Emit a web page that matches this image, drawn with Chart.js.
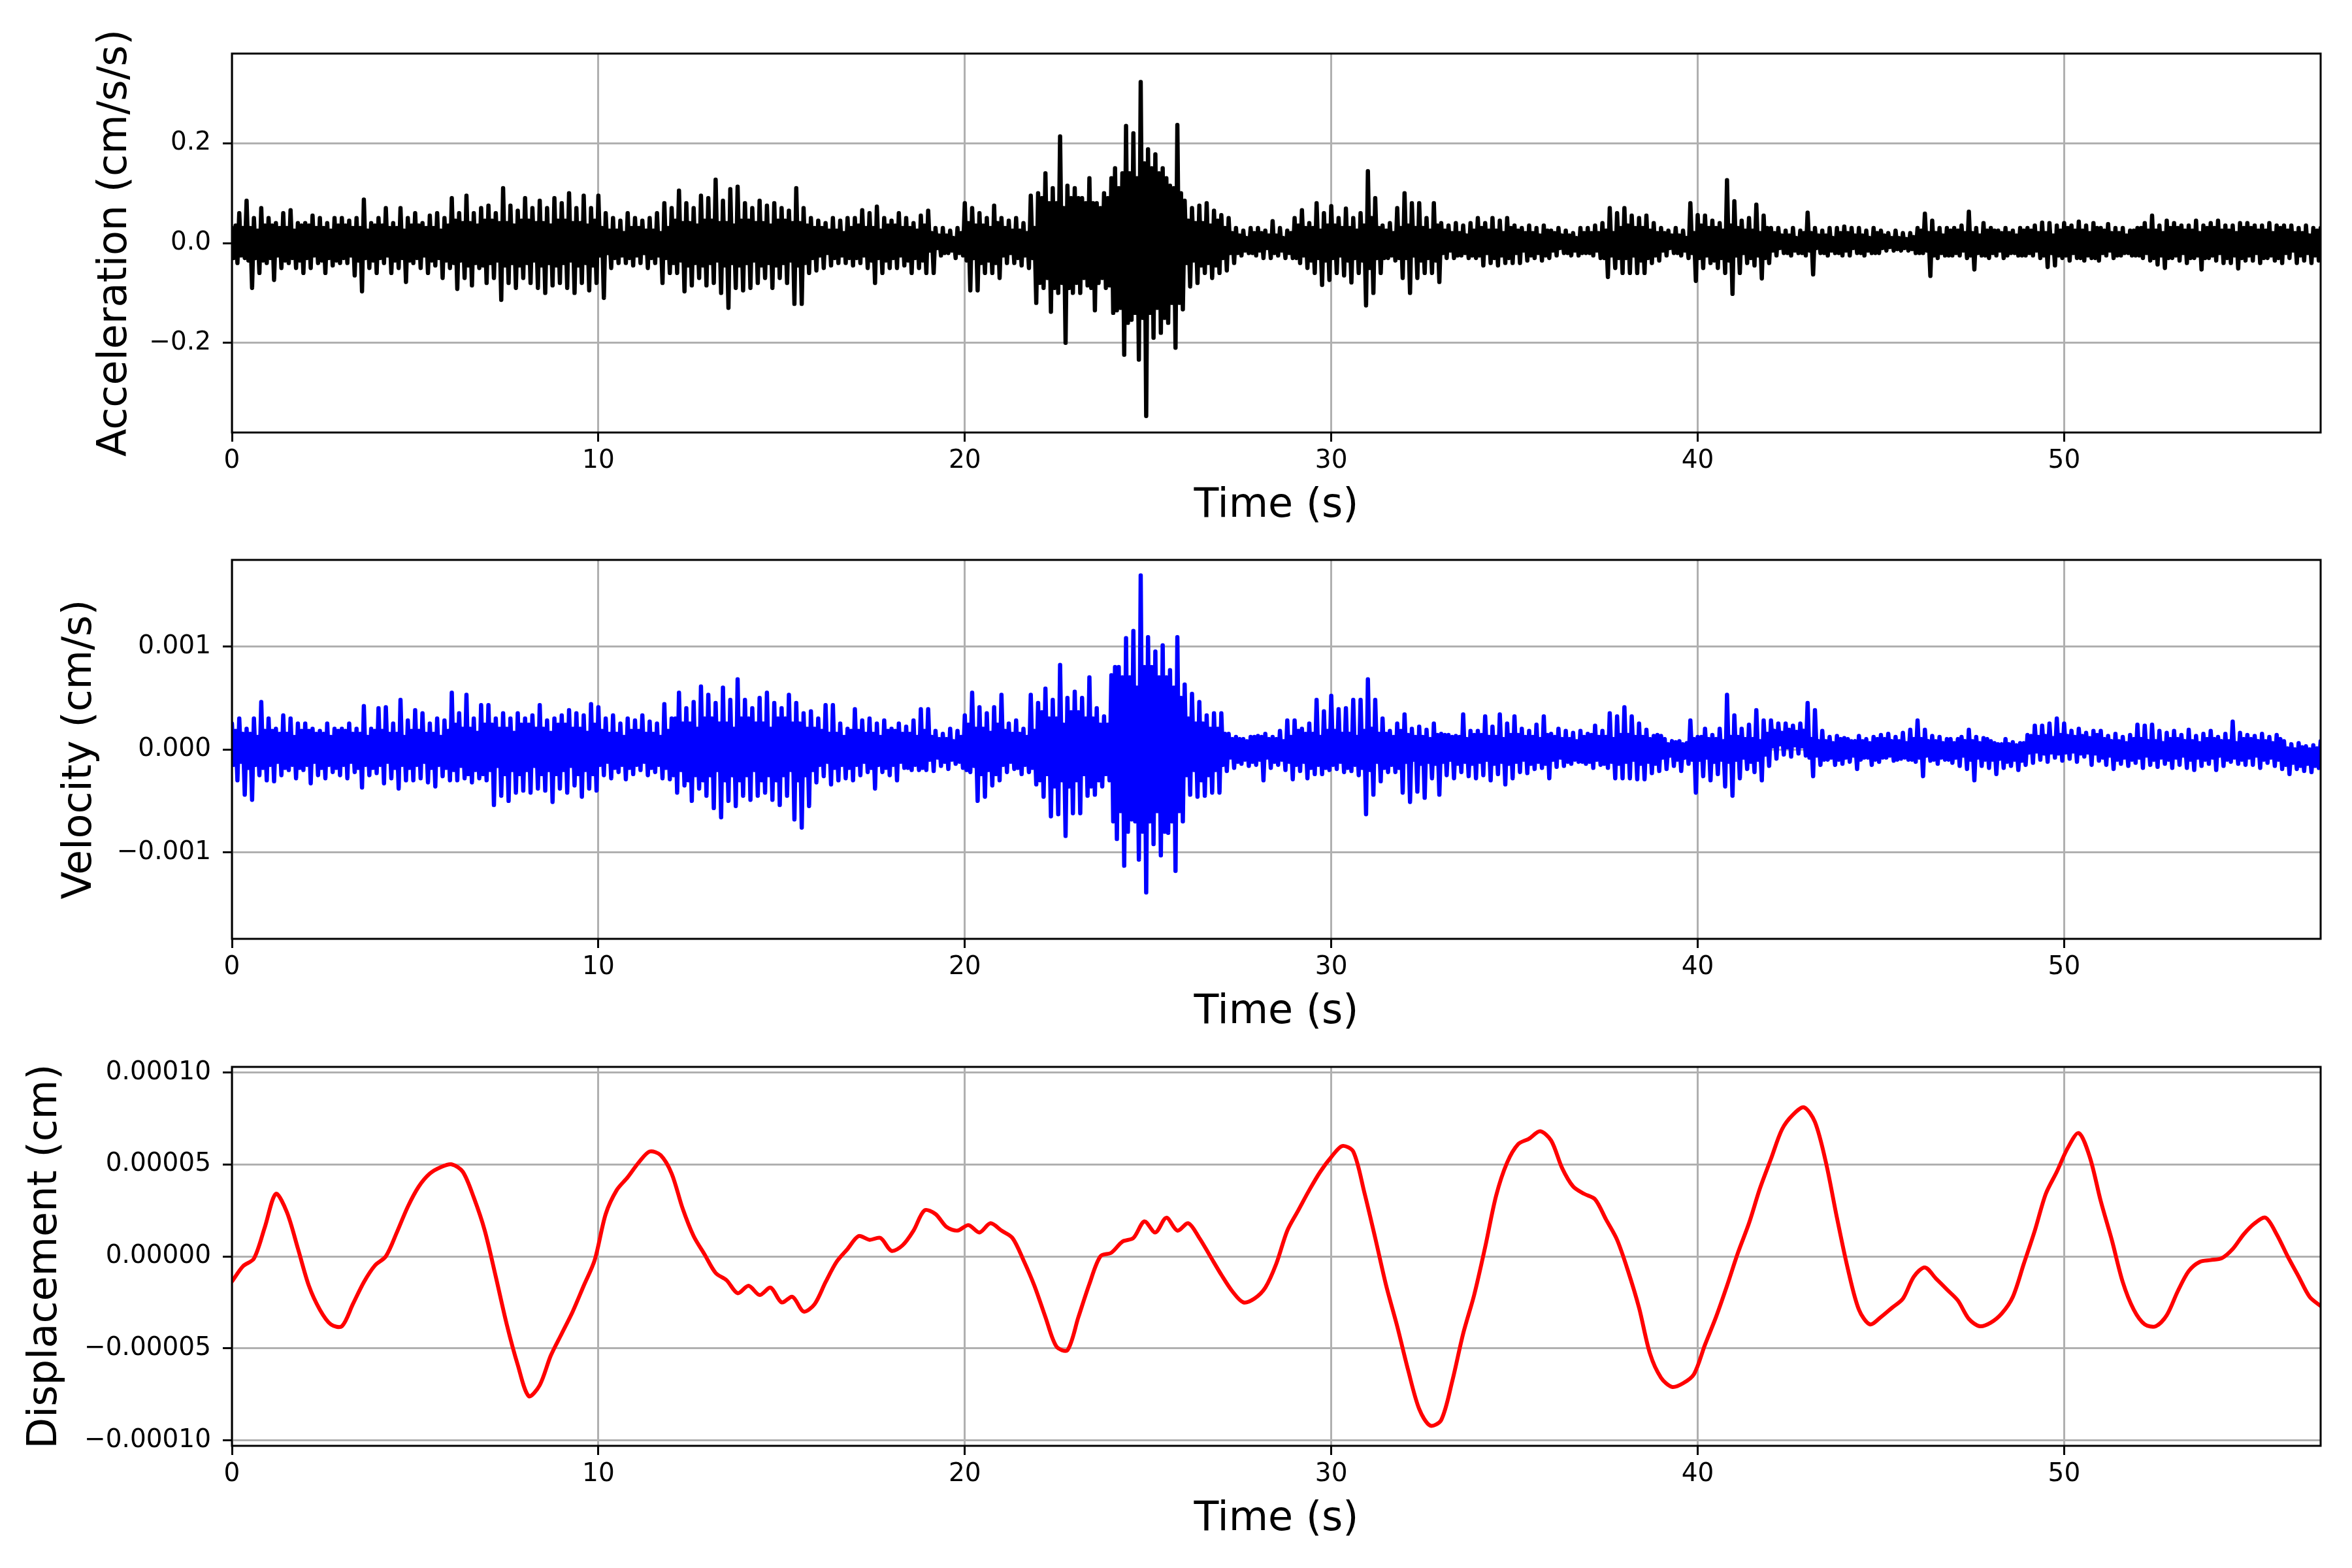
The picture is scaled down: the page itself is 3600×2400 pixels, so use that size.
<!DOCTYPE html>
<html>
<head>
<meta charset="utf-8">
<title>Acceleration, velocity and displacement</title>
<script src="https://cdn.jsdelivr.net/npm/chart.js@4.4.1/dist/chart.umd.min.js"></script>
<style>
  html, body { margin: 0; padding: 0; background: #fff; }
  body { width: 3600px; height: 2400px; position: relative; overflow: hidden; }
  canvas { position: absolute; left: 0; }
</style>
</head>
<body>
<canvas id="accChart" width="3600" height="790" style="top:32px"></canvas>
<canvas id="velChart" width="3600" height="790" style="top:807px"></canvas>
<canvas id="dispChart" width="3600" height="790" style="top:1583px"></canvas>
<script>
// sample spacing of the two noisy traces (s): 20 readings per second
const DT = 0.05;
// sample spacing of the displacement trace (s)
const DISP_DT = 0.3;

// acceleration (cm/s/s), one row per second
const acceleration = [
  .03,-.03,.035,-.04,.06,-.025,.03,-.03,.085,-.035,.03,-.09,.05,-.03,.025,-.06,.07,-.035,.035,-.04,
  .05,-.03,.035,-.074,.04,-.025,.03,-.05,.06,-.035,.03,-.04,.066,-.03,.025,-.05,.04,-.035,.035,-.06,
  .04,-.03,.035,-.05,.055,-.025,.03,-.04,.05,-.035,.03,-.06,.04,-.03,.025,-.045,.05,-.035,.035,-.04,
  .05,-.03,.035,-.04,.045,-.025,.03,-.065,.05,-.035,.03,-.097,.087,-.03,.025,-.05,.04,-.035,.035,-.06,
  .05,-.03,.035,-.04,.07,-.025,.03,-.06,.04,-.035,.03,-.05,.07,-.03,.025,-.078,.05,-.035,.035,-.04,
  .06,-.03,.035,-.05,.04,-.025,.03,-.06,.055,-.035,.03,-.045,.06,-.03,.025,-.07,.05,-.035,.035,-.05,
  .09,-.04,.045,-.092,.06,-.035,.04,-.07,.095,-.045,.04,-.085,.06,-.04,.035,-.05,.07,-.045,.045,-.08,
  .075,-.04,.045,-.07,.06,-.035,.04,-.114,.11,-.045,.04,-.08,.075,-.04,.035,-.09,.065,-.045,.045,-.07,
  .09,-.04,.045,-.08,.07,-.035,.04,-.09,.085,-.045,.04,-.1,.07,-.04,.035,-.085,.09,-.045,.045,-.08,
  .08,-.04,.045,-.09,.1,-.035,.04,-.1,.07,-.045,.04,-.08,.095,-.04,.035,-.095,.07,-.045,.045,-.08,
  .095,-.025,.03,-.11,.06,-.02,.025,-.05,.05,-.03,.025,-.04,.045,-.025,.02,-.04,.06,-.03,.03,-.045,
  .05,-.025,.03,-.04,.045,-.02,.025,-.05,.05,-.03,.025,-.04,.06,-.025,.02,-.08,.08,-.03,.03,-.06,
  .07,-.04,.045,-.06,.105,-.035,.04,-.097,.08,-.045,.04,-.085,.07,-.04,.035,-.07,.095,-.045,.045,-.085,
  .09,-.04,.045,-.08,.127,-.035,.04,-.1,.085,-.045,.04,-.13,.108,-.04,.035,-.09,.113,-.045,.045,-.095,
  .08,-.04,.045,-.09,.07,-.035,.04,-.08,.085,-.045,.04,-.07,.075,-.04,.035,-.09,.08,-.045,.045,-.07,
  .07,-.04,.045,-.08,.065,-.035,.04,-.122,.11,-.045,.04,-.122,.07,-.04,.035,-.06,.05,-.03,.03,-.055,
  .045,-.025,.03,-.05,.04,-.02,.025,-.045,.05,-.03,.025,-.04,.045,-.025,.02,-.04,.05,-.03,.03,-.045,
  .05,-.03,.035,-.04,.066,-.025,.03,-.05,.06,-.035,.03,-.08,.073,-.03,.025,-.06,.05,-.035,.035,-.05,
  .045,-.03,.035,-.05,.06,-.025,.03,-.045,.05,-.035,.03,-.06,.04,-.03,.025,-.05,.055,-.035,.035,-.06,
  .065,-.015,.02,-.06,.03,-.01,.015,-.025,.03,-.02,.015,-.02,.025,-.015,.01,-.03,.03,-.02,.02,-.025,
  .08,-.035,.04,-.095,.07,-.03,.035,-.095,.06,-.04,.035,-.06,.05,-.035,.03,-.06,.075,-.04,.04,-.07,
  .05,-.025,.03,-.04,.045,-.02,.025,-.04,.05,-.03,.025,-.045,.04,-.025,.02,-.05,.095,-.03,.03,-.12,
  .1,-.08,.09,-.09,.14,-.07,.08,-.138,.11,-.09,.08,-.1,.214,-.08,.07,-.2,.115,-.09,.09,-.1,
  .11,-.08,.09,-.1,.09,-.07,.08,-.085,.13,-.09,.08,-.135,.08,-.08,.07,-.07,.1,-.09,.09,-.085,
  .13,-.14,.15,-.135,.11,-.13,.14,-.224,.235,-.16,.14,-.154,.22,-.14,.13,-.234,.323,-.15,.16,-.347,
  .188,-.14,.15,-.19,.178,-.13,.14,-.18,.15,-.15,.13,-.16,.115,-.12,.11,-.21,.237,-.12,.1,-.133,
  .085,-.04,.045,-.087,.07,-.035,.04,-.08,.075,-.045,.04,-.06,.08,-.04,.035,-.07,.065,-.045,.045,-.06,
  .056,-.03,.03,-.055,.05,-.02,.02,-.04,.03,-.02,.015,-.025,.025,-.015,.01,-.02,.03,-.02,.02,-.025,
  .03,-.015,.02,-.03,.025,-.01,.015,-.03,.044,-.02,.015,-.025,.03,-.015,.01,-.03,.025,-.02,.02,-.03,
  .05,-.03,.035,-.04,.066,-.025,.03,-.05,.04,-.035,.03,-.06,.08,-.03,.025,-.084,.06,-.035,.035,-.074,
  .074,-.03,.035,-.06,.05,-.025,.03,-.065,.069,-.035,.03,-.079,.05,-.03,.025,-.06,.06,-.035,.035,-.125,
  .144,-.05,.05,-.1,.09,-.03,.03,-.06,.035,-.03,.025,-.03,.04,-.025,.02,-.035,.07,-.03,.03,-.07,
  .1,-.03,.035,-.1,.08,-.025,.03,-.07,.08,-.035,.03,-.06,.05,-.03,.025,-.06,.08,-.035,.035,-.078,
  .04,-.02,.025,-.03,.035,-.015,.02,-.03,.04,-.025,.02,-.025,.035,-.02,.015,-.03,.04,-.025,.025,-.03,
  .05,-.025,.03,-.045,.04,-.02,.025,-.04,.05,-.03,.025,-.045,.045,-.025,.02,-.04,.05,-.03,.03,-.04,
  .035,-.02,.025,-.04,.03,-.015,.02,-.035,.035,-.025,.02,-.03,.03,-.02,.015,-.035,.035,-.025,.025,-.03,
  .025,-.015,.02,-.025,.03,-.01,.015,-.02,.025,-.02,.015,-.025,.02,-.015,.01,-.025,.03,-.02,.02,-.02,
  .03,-.02,.02,-.025,.035,-.015,.02,-.03,.04,-.03,.025,-.068,.07,-.025,.02,-.05,.06,-.03,.03,-.06,
  .07,-.03,.035,-.06,.055,-.025,.03,-.06,.05,-.035,.03,-.06,.055,-.03,.025,-.04,.04,-.025,.02,-.035,
  .03,-.015,.02,-.025,.025,-.01,.015,-.02,.03,-.02,.015,-.025,.025,-.015,.01,-.03,.08,-.02,.02,-.076,
  .056,-.03,.035,-.05,.055,-.025,.03,-.04,.045,-.035,.03,-.05,.04,-.03,.025,-.06,.126,-.035,.035,-.102,
  .084,-.025,.03,-.06,.045,-.02,.025,-.04,.05,-.03,.025,-.045,.077,-.025,.02,-.071,.055,-.03,.03,-.04,
  .03,-.015,.02,-.025,.03,-.01,.015,-.02,.025,-.02,.015,-.025,.03,-.015,.01,-.02,.025,-.02,.02,-.025,
  .061,-.015,.02,-.063,.03,-.01,.015,-.02,.025,-.02,.015,-.025,.03,-.015,.01,-.02,.03,-.02,.02,-.025,
  .033,-.015,.02,-.025,.03,-.01,.015,-.02,.03,-.02,.015,-.025,.025,-.015,.01,-.02,.03,-.02,.02,-.02,
  .025,-.01,.015,-.015,.02,-.008,.01,-.015,.025,-.012,.01,-.015,.02,-.01,.008,-.015,.02,-.012,.012,-.02,
  .03,-.02,.025,-.02,.059,-.015,.02,-.066,.045,-.025,.02,-.03,.03,-.02,.015,-.025,.03,-.025,.025,-.025,
  .03,-.02,.025,-.025,.035,-.015,.02,-.03,.063,-.025,.02,-.053,.03,-.02,.015,-.025,.04,-.025,.025,-.03,
  .03,-.02,.025,-.025,.025,-.015,.02,-.03,.03,-.025,.02,-.02,.025,-.02,.015,-.025,.03,-.025,.025,-.025,
  .03,-.02,.025,-.025,.035,-.015,.02,-.03,.041,-.025,.02,-.048,.04,-.02,.015,-.045,.035,-.025,.025,-.03,
  .04,-.025,.03,-.035,.035,-.02,.025,-.03,.043,-.03,.025,-.035,.035,-.025,.02,-.03,.04,-.03,.03,-.035,
  .03,-.02,.025,-.025,.038,-.015,.02,-.03,.03,-.025,.02,-.025,.03,-.02,.015,-.02,.025,-.025,.025,-.025,
  .03,-.025,.03,-.03,.04,-.02,.025,-.035,.055,-.03,.025,-.043,.035,-.025,.02,-.05,.045,-.03,.03,-.03,
  .04,-.025,.03,-.035,.035,-.02,.025,-.04,.035,-.03,.025,-.03,.045,-.025,.02,-.053,.035,-.03,.03,-.03,
  .04,-.025,.03,-.035,.045,-.02,.025,-.04,.035,-.03,.025,-.04,.035,-.025,.02,-.051,.04,-.03,.03,-.035,
  .04,-.025,.03,-.035,.035,-.02,.025,-.04,.035,-.03,.025,-.03,.04,-.025,.02,-.035,.035,-.03,.03,-.04,
  .035,-.02,.025,-.03,.035,-.015,.02,-.04,.03,-.025,.02,-.035,.035,-.02,.015,-.04,.03,-.025,.025,-.035,
  .03
];

// velocity (cm/s), one row per second
const velocity = [
  2.5e-4,-1.5e-4,1.8e-4,-3e-4,3e-4,-1.2e-4,1.5e-4,-4.4e-4,2e-4,-1.8e-4,1.5e-4,-4.9e-4,3e-4,-1.5e-4,1.2e-4,-2.5e-4,4.6e-4,-1.8e-4,1.8e-4,-3e-4,
  3e-4,-1.5e-4,1.8e-4,-3.1e-4,2e-4,-1.2e-4,1.5e-4,-2.5e-4,3.3e-4,-1.8e-4,1.5e-4,-2e-4,3e-4,-1.5e-4,1.2e-4,-2.8e-4,2.5e-4,-1.8e-4,1.8e-4,-2e-4,
  2.5e-4,-1.5e-4,1.8e-4,-3.3e-4,2e-4,-1.2e-4,1.5e-4,-2.5e-4,1.8e-4,-1.8e-4,1.5e-4,-2.8e-4,2.5e-4,-1.5e-4,1.2e-4,-2.2e-4,2e-4,-1.8e-4,1.8e-4,-2.5e-4,
  2e-4,-1.5e-4,1.8e-4,-2.8e-4,2.5e-4,-1.2e-4,1.5e-4,-2.2e-4,2e-4,-1.8e-4,1.5e-4,-3.7e-4,4.2e-4,-1.5e-4,1.2e-4,-2.5e-4,2e-4,-1.8e-4,1.8e-4,-2.3e-4,
  4e-4,-1.5e-4,1.8e-4,-3.3e-4,4.1e-4,-1.2e-4,1.5e-4,-2.8e-4,2.5e-4,-1.8e-4,1.5e-4,-3.8e-4,4.8e-4,-1.5e-4,1.2e-4,-3e-4,2.8e-4,-1.8e-4,1.8e-4,-3e-4,
  3.8e-4,-1.5e-4,1.8e-4,-2.8e-4,3.5e-4,-1.2e-4,1.5e-4,-3.2e-4,2.5e-4,-1.8e-4,1.5e-4,-3.6e-4,3e-4,-1.5e-4,1.2e-4,-2.6e-4,2.8e-4,-1.8e-4,1.8e-4,-3e-4,
  5.5e-4,-2e-4,2.4e-4,-3e-4,3.5e-4,-1.6e-4,2e-4,-2.8e-4,5.3e-4,-2.4e-4,2e-4,-3.2e-4,3e-4,-2e-4,1.6e-4,-2.8e-4,4.3e-4,-2.4e-4,2.4e-4,-3e-4,
  4.3e-4,-2e-4,2.4e-4,-5.4e-4,3e-4,-1.6e-4,2e-4,-4.5e-4,3.5e-4,-2.4e-4,2e-4,-5e-4,3e-4,-2e-4,1.6e-4,-4.2e-4,3.5e-4,-2.4e-4,2.4e-4,-4e-4,
  3e-4,-2e-4,2.4e-4,-4.2e-4,3.3e-4,-1.6e-4,2e-4,-3.8e-4,4.3e-4,-2.4e-4,2e-4,-4e-4,2.8e-4,-2e-4,1.6e-4,-5.1e-4,3e-4,-2.4e-4,2.4e-4,-3.8e-4,
  3.3e-4,-2e-4,2.4e-4,-4.2e-4,3.8e-4,-1.6e-4,2e-4,-3.5e-4,3.5e-4,-2.4e-4,2e-4,-4.6e-4,3.3e-4,-2e-4,1.6e-4,-3.8e-4,4.4e-4,-2.4e-4,2.4e-4,-4e-4,
  4.1e-4,-1.5e-4,1.8e-4,-2.5e-4,3e-4,-1.2e-4,1.5e-4,-2.8e-4,3.3e-4,-1.8e-4,1.5e-4,-2.2e-4,2.5e-4,-1.5e-4,1.2e-4,-2.9e-4,3e-4,-1.8e-4,1.8e-4,-2.4e-4,
  2.8e-4,-1.5e-4,1.8e-4,-2e-4,3.3e-4,-1.2e-4,1.5e-4,-2.5e-4,2.7e-4,-1.8e-4,1.5e-4,-2.2e-4,2.5e-4,-1.5e-4,1.2e-4,-2.8e-4,4.4e-4,-1.8e-4,1.8e-4,-2.9e-4,
  3e-4,-2.5e-4,3e-4,-4.2e-4,5.5e-4,-2e-4,2.5e-4,-3.5e-4,4e-4,-3e-4,2.5e-4,-5e-4,4.6e-4,-2.5e-4,2e-4,-3.8e-4,6.1e-4,-3e-4,3e-4,-4.5e-4,
  5.3e-4,-2.5e-4,3e-4,-5.7e-4,4.5e-4,-2e-4,2.5e-4,-6.6e-4,6e-4,-3e-4,2.5e-4,-5e-4,4.8e-4,-2.5e-4,2e-4,-5.5e-4,6.8e-4,-3e-4,3e-4,-4.5e-4,
  4.8e-4,-2.5e-4,3e-4,-4.9e-4,4e-4,-2e-4,2.5e-4,-4.5e-4,5e-4,-3e-4,2.5e-4,-4.2e-4,5.5e-4,-2.5e-4,2e-4,-4.9e-4,4.5e-4,-3e-4,3e-4,-5.4e-4,
  4e-4,-2.5e-4,3e-4,-4.5e-4,5.3e-4,-2e-4,2.5e-4,-6.8e-4,4.5e-4,-3e-4,2.5e-4,-7.6e-4,3.5e-4,-2.5e-4,2e-4,-5.5e-4,3.7e-4,-2e-4,2e-4,-3.2e-4,
  3e-4,-1.5e-4,1.8e-4,-2.6e-4,4.3e-4,-1.2e-4,1.5e-4,-3.4e-4,4.3e-4,-1.8e-4,1.5e-4,-3e-4,2.5e-4,-1.5e-4,1.2e-4,-2.8e-4,2e-4,-1.8e-4,1.8e-4,-3e-4,
  3.9e-4,-1.5e-4,1.8e-4,-2.5e-4,2.8e-4,-1.2e-4,1.5e-4,-2.2e-4,3e-4,-1.8e-4,1.5e-4,-3.8e-4,2.5e-4,-1.5e-4,1.2e-4,-2.2e-4,2.8e-4,-1.8e-4,1.8e-4,-2.5e-4,
  2e-4,-1.5e-4,1.8e-4,-3e-4,2.5e-4,-1.2e-4,1.5e-4,-1.8e-4,2.2e-4,-1.8e-4,1.5e-4,-2e-4,2.8e-4,-1.5e-4,1.2e-4,-2e-4,3.9e-4,-1.8e-4,1.8e-4,-2e-4,
  3.9e-4,-1e-4,1.2e-4,-2.1e-4,1.8e-4,-0.8e-4,1e-4,-1.6e-4,1.5e-4,-1.2e-4,1e-4,-1.9e-4,2e-4,-1e-4,0.8e-4,-1.4e-4,1.8e-4,-1.2e-4,1.2e-4,-1.8e-4,
  3.3e-4,-2e-4,2.4e-4,-2.2e-4,5.5e-4,-1.6e-4,2e-4,-5e-4,4.1e-4,-2.4e-4,2e-4,-4.6e-4,3.5e-4,-2e-4,1.6e-4,-3.5e-4,4.1e-4,-2.4e-4,2.4e-4,-3e-4,
  5.3e-4,-1.5e-4,1.8e-4,-2.2e-4,2.5e-4,-1.2e-4,1.5e-4,-1.9e-4,2.8e-4,-1.8e-4,1.5e-4,-2.4e-4,2e-4,-1.5e-4,1.2e-4,-2.2e-4,5.3e-4,-1.8e-4,1.8e-4,-3.4e-4,
  4.5e-4,-3e-4,3.6e-4,-4.6e-4,5.9e-4,-2.4e-4,3e-4,-6.5e-4,4.8e-4,-3.6e-4,3e-4,-6.3e-4,8.2e-4,-3e-4,2.4e-4,-8.4e-4,5e-4,-3.6e-4,3.6e-4,-6.2e-4,
  5.6e-4,-3e-4,3.6e-4,-6.2e-4,5e-4,-2.4e-4,3e-4,-4.5e-4,7e-4,-3.6e-4,3e-4,-4.4e-4,4e-4,-3e-4,2.4e-4,-3.6e-4,3.2e-4,-2.4e-4,2.4e-4,-3e-4,
  7.2e-4,-7e-4,8e-4,-8.7e-4,8e-4,-6e-4,7e-4,-11.3e-4,10.8e-4,-8e-4,7e-4,-6.8e-4,11.5e-4,-7e-4,6e-4,-10.7e-4,16.9e-4,-8e-4,8e-4,-13.9e-4,
  10.9e-4,-7e-4,8e-4,-9.2e-4,9.5e-4,-6e-4,7e-4,-10.3e-4,10.1e-4,-8e-4,7e-4,-8.1e-4,7.7e-4,-7e-4,6e-4,-11.8e-4,10.9e-4,-6e-4,5e-4,-7e-4,
  6.3e-4,-2.5e-4,3e-4,-4.4e-4,5.4e-4,-2e-4,2.5e-4,-4.6e-4,4.6e-4,-3e-4,2.5e-4,-4.5e-4,3.3e-4,-2.5e-4,2e-4,-4.2e-4,3.5e-4,-2e-4,2e-4,-4.2e-4,
  3.5e-4,-1.5e-4,1.5e-4,-2.1e-4,1.5e-4,-0.8e-4,1e-4,-1.8e-4,1.2e-4,-1.2e-4,1e-4,-1.4e-4,1e-4,-1e-4,0.8e-4,-1.6e-4,1.2e-4,-1.2e-4,1.2e-4,-1.5e-4,
  1.3e-4,-1e-4,1.2e-4,-3e-4,1.5e-4,-0.8e-4,1e-4,-1.8e-4,1.2e-4,-1.2e-4,1e-4,-1.5e-4,1.8e-4,-1e-4,0.8e-4,-2e-4,2.8e-4,-1.2e-4,1.2e-4,-2.9e-4,
  2.8e-4,-1.5e-4,1.8e-4,-2.1e-4,2e-4,-1.2e-4,1.5e-4,-2.8e-4,2.5e-4,-1.8e-4,1.5e-4,-2.4e-4,4.8e-4,-1.5e-4,1.2e-4,-2.4e-4,3.7e-4,-1.8e-4,1.8e-4,-2e-4,
  5.2e-4,-1.5e-4,1.8e-4,-1.9e-4,3.9e-4,-1.2e-4,1.5e-4,-2.2e-4,4e-4,-1.8e-4,1.5e-4,-2.1e-4,4.8e-4,-1.5e-4,1.2e-4,-2.5e-4,4.8e-4,-1.8e-4,1.8e-4,-6.3e-4,
  6.8e-4,-2e-4,2e-4,-4.4e-4,4.8e-4,-1.2e-4,1.5e-4,-3.1e-4,3e-4,-1.8e-4,1.5e-4,-2.2e-4,1.8e-4,-1.5e-4,1.2e-4,-2.2e-4,2.5e-4,-1.8e-4,1.8e-4,-4.2e-4,
  3.4e-4,-1.2e-4,1.4e-4,-5.1e-4,2e-4,-1e-4,1.2e-4,-4.1e-4,2.2e-4,-1.4e-4,1.2e-4,-4.7e-4,1.9e-4,-1.2e-4,1e-4,-2.8e-4,2.5e-4,-1.4e-4,1.4e-4,-4.4e-4,
  1.5e-4,-1.2e-4,1.4e-4,-2.5e-4,1.4e-4,-1e-4,1.2e-4,-2.8e-4,1.3e-4,-1.4e-4,1.2e-4,-2.2e-4,3.4e-4,-1.2e-4,1e-4,-2.6e-4,1.8e-4,-1.4e-4,1.4e-4,-2.8e-4,
  1.8e-4,-1.2e-4,1.4e-4,-2.5e-4,3.2e-4,-1e-4,1.2e-4,-3e-4,2.2e-4,-1.4e-4,1.2e-4,-2.4e-4,3.4e-4,-1.2e-4,1e-4,-3.4e-4,2.5e-4,-1.4e-4,1.4e-4,-2.8e-4,
  3.2e-4,-1.2e-4,1.4e-4,-2.2e-4,2e-4,-1e-4,1.2e-4,-2.3e-4,1.8e-4,-1.4e-4,1.2e-4,-1.9e-4,2.4e-4,-1.2e-4,1e-4,-1.8e-4,3.2e-4,-1.4e-4,1.4e-4,-2.8e-4,
  1.5e-4,-1e-4,1.2e-4,-1.7e-4,2e-4,-0.8e-4,1e-4,-1.6e-4,1.8e-4,-1.2e-4,1e-4,-1.4e-4,1.6e-4,-1e-4,0.8e-4,-1.2e-4,1.8e-4,-1.2e-4,1.2e-4,-1.4e-4,
  1.5e-4,-1.2e-4,1.4e-4,-1.8e-4,2.3e-4,-1e-4,1.2e-4,-1.5e-4,1.8e-4,-1.4e-4,1.2e-4,-1.8e-4,3.5e-4,-1.2e-4,1e-4,-2.8e-4,3.2e-4,-1.4e-4,1.4e-4,-2.8e-4,
  4.1e-4,-1.2e-4,1.4e-4,-2.8e-4,3.2e-4,-1e-4,1.2e-4,-2.9e-4,2.5e-4,-1.4e-4,1.2e-4,-2.9e-4,1.9e-4,-1.2e-4,1e-4,-2.3e-4,1.3e-4,-1.4e-4,1.4e-4,-2.1e-4,
  1.3e-4,-0.8e-4,1e-4,-1.9e-4,0.5e-4,-0.6e-4,0.8e-4,-1.6e-4,0.7e-4,-1e-4,0.8e-4,-2.1e-4,0.5e-4,-0.8e-4,0.6e-4,-1.4e-4,2.8e-4,-1e-4,1e-4,-4.2e-4,
  1.2e-4,-1e-4,1.2e-4,-2.6e-4,2e-4,-0.8e-4,1e-4,-3e-4,1.4e-4,-1.2e-4,1e-4,-2.4e-4,2e-4,-1e-4,0.8e-4,-3.6e-4,5.3e-4,-1.2e-4,1.2e-4,-4.5e-4,
  3.3e-4,-1e-4,1.2e-4,-2.8e-4,2e-4,-0.8e-4,1e-4,-1.9e-4,2.4e-4,-1.2e-4,1e-4,-2.2e-4,3.8e-4,-1e-4,0.8e-4,-3e-4,2.8e-4,-0.5e-4,1.5e-4,-1.6e-4,
  2.8e-4,0.3e-4,1.8e-4,-0.9e-4,2.5e-4,0.5e-4,1.6e-4,-0.5e-4,2.5e-4,0.2e-4,1.9e-4,-0.7e-4,2.3e-4,0.4e-4,1.7e-4,-0.4e-4,2.5e-4,0.3e-4,1.8e-4,-0.6e-4,
  4.5e-4,-0.8e-4,1e-4,-2.6e-4,3.8e-4,-0.6e-4,0.8e-4,-1.5e-4,1.8e-4,-1e-4,0.8e-4,-1e-4,1.2e-4,-0.8e-4,0.6e-4,-1.5e-4,1.3e-4,-1e-4,1e-4,-1.4e-4,
  1.1e-4,-0.8e-4,1e-4,-1.2e-4,0.8e-4,-0.6e-4,0.8e-4,-1.9e-4,1.3e-4,-1e-4,0.8e-4,-0.8e-4,1e-4,-0.8e-4,0.6e-4,-1.5e-4,1.2e-4,-1e-4,1e-4,-1.2e-4,
  1.4e-4,-0.8e-4,1e-4,-0.8e-4,1.5e-4,-0.6e-4,0.8e-4,-1.1e-4,1.2e-4,-1e-4,0.8e-4,-0.9e-4,1.6e-4,-0.8e-4,0.6e-4,-1e-4,1.9e-4,-1e-4,1e-4,-1.2e-4,
  2.8e-4,-0.8e-4,1e-4,-2.6e-4,1.9e-4,-0.6e-4,0.8e-4,-1.1e-4,1.3e-4,-1e-4,0.8e-4,-1.4e-4,1.2e-4,-0.8e-4,0.6e-4,-1e-4,1e-4,-1e-4,1e-4,-1.3e-4,
  0.6e-4,-0.8e-4,1e-4,-1.6e-4,1.2e-4,-0.6e-4,0.8e-4,-1.9e-4,1.9e-4,-1e-4,0.8e-4,-3e-4,1.2e-4,-0.8e-4,0.6e-4,-1.6e-4,1.1e-4,-1e-4,1e-4,-1.8e-4,
  0.8e-4,-1e-4,0.6e-4,-2.4e-4,0.5e-4,-0.9e-4,0.5e-4,-1.8e-4,1e-4,-1.2e-4,0.5e-4,-1.6e-4,0.7e-4,-1e-4,0.4e-4,-2e-4,0.6e-4,-1.1e-4,0.6e-4,-1.5e-4,
  1.4e-4,-0.3e-4,1.3e-4,-1.3e-4,2.3e-4,-0.2e-4,1.2e-4,-1e-4,2.3e-4,-0.4e-4,1.3e-4,-1.2e-4,2.5e-4,-0.3e-4,1.1e-4,-0.8e-4,3e-4,-0.4e-4,1.4e-4,-1.1e-4,
  2.5e-4,-0.3e-4,1.3e-4,-0.9e-4,1.8e-4,-0.2e-4,1.2e-4,-1.2e-4,2e-4,-0.4e-4,1.3e-4,-0.7e-4,1.6e-4,-0.3e-4,1.1e-4,-1.5e-4,1.8e-4,-0.4e-4,1.4e-4,-1.1e-4,
  1.8e-4,-0.8e-4,1e-4,-1.5e-4,1.3e-4,-0.6e-4,0.8e-4,-1.9e-4,1.5e-4,-1e-4,0.8e-4,-1.4e-4,1.2e-4,-0.8e-4,0.6e-4,-1.6e-4,1.4e-4,-1e-4,1e-4,-1.3e-4,
  2.4e-4,-0.8e-4,1e-4,-1.8e-4,2.3e-4,-0.6e-4,0.8e-4,-1.5e-4,2.4e-4,-1e-4,0.8e-4,-1.7e-4,1.8e-4,-0.8e-4,0.6e-4,-1.4e-4,1.6e-4,-1e-4,1e-4,-1.8e-4,
  1.8e-4,-0.8e-4,1e-4,-1.5e-4,1.4e-4,-0.6e-4,0.8e-4,-1.8e-4,1.9e-4,-1e-4,0.8e-4,-2e-4,1.3e-4,-0.8e-4,0.6e-4,-1.6e-4,1.5e-4,-1e-4,1e-4,-1.4e-4,
  1.8e-4,-0.8e-4,1e-4,-2e-4,1.2e-4,-0.6e-4,0.8e-4,-1.6e-4,1.5e-4,-1e-4,0.8e-4,-1.2e-4,2.7e-4,-0.8e-4,0.6e-4,-1.4e-4,1.6e-4,-1e-4,1e-4,-1.5e-4,
  1.4e-4,-0.8e-4,1e-4,-1.5e-4,1.3e-4,-0.6e-4,0.8e-4,-1.8e-4,1.5e-4,-1e-4,0.8e-4,-1.3e-4,1.2e-4,-0.8e-4,0.6e-4,-1.6e-4,1.4e-4,-1e-4,1e-4,-1.9e-4,
  0.8e-4,-1.5e-4,0.1e-4,-2.4e-4,0.5e-4,-1.3e-4,0,-1.9e-4,0.6e-4,-1.6e-4,0.2e-4,-2.1e-4,0.3e-4,-1.4e-4,0,-2.2e-4,0.4e-4,-1.6e-4,0.1e-4,-1.8e-4,
  0.8e-4
];

// displacement (cm), every 0.3 s
const displacement = [
  -1.37e-5,-0.54e-5,-0.12e-5,1.6e-5,3.4e-5,2.4e-5,0.43e-5,-1.6e-5,-2.9e-5,-3.7e-5,
  -3.8e-5,-2.6e-5,-1.4e-5,-0.5e-5,0,1.3e-5,2.7e-5,3.8e-5,4.5e-5,4.85e-5,
  5.0e-5,4.6e-5,3.2e-5,1.4e-5,-1.1e-5,-3.7e-5,-5.9e-5,-7.6e-5,-7.0e-5,-5.4e-5,
  -4.2e-5,-3.0e-5,-1.6e-5,-0.2e-5,2.3e-5,3.6e-5,4.3e-5,5.1e-5,5.7e-5,5.5e-5,
  4.5e-5,2.6e-5,1.1e-5,0.1e-5,-0.9e-5,-1.3e-5,-2.0e-5,-1.6e-5,-2.1e-5,-1.7e-5,
  -2.5e-5,-2.2e-5,-3.0e-5,-2.6e-5,-1.4e-5,-0.3e-5,0.4e-5,1.1e-5,0.9e-5,1.0e-5,
  0.3e-5,0.6e-5,1.4e-5,2.5e-5,2.3e-5,1.6e-5,1.4e-5,1.7e-5,1.3e-5,1.8e-5,
  1.4e-5,1.0e-5,-0.2e-5,-1.6e-5,-3.3e-5,-4.9e-5,-5.1e-5,-3.3e-5,-1.5e-5,0,
  0.2e-5,0.8e-5,1.0e-5,1.9e-5,1.3e-5,2.1e-5,1.4e-5,1.8e-5,1.0e-5,0,
  -1.0e-5,-1.9e-5,-2.5e-5,-2.3e-5,-1.7e-5,-0.4e-5,1.4e-5,2.5e-5,3.6e-5,4.6e-5,
  5.4e-5,6.0e-5,5.7e-5,3.5e-5,1.0e-5,-1.6e-5,-3.8e-5,-6.2e-5,-8.3e-5,-9.2e-5,
  -8.9e-5,-6.8e-5,-4.2e-5,-2.1e-5,0.5e-5,3.3e-5,5.1e-5,6.1e-5,6.4e-5,6.8e-5,
  6.3e-5,4.8e-5,3.8e-5,3.4e-5,3.1e-5,2.0e-5,0.9e-5,-0.8e-5,-2.8e-5,-5.3e-5,
  -6.6e-5,-7.1e-5,-6.9e-5,-6.4e-5,-4.8e-5,-3.3e-5,-1.6e-5,0.2e-5,1.8e-5,3.7e-5,
  5.3e-5,6.9e-5,7.7e-5,8.1e-5,7.3e-5,5.1e-5,2.1e-5,-0.7e-5,-2.9e-5,-3.7e-5,
  -3.3e-5,-2.8e-5,-2.3e-5,-1.1e-5,-0.6e-5,-1.2e-5,-1.8e-5,-2.4e-5,-3.4e-5,-3.8e-5,
  -3.6e-5,-3.1e-5,-2.2e-5,-0.4e-5,1.4e-5,3.4e-5,4.6e-5,5.9e-5,6.7e-5,5.4e-5,
  3.0e-5,0.9e-5,-1.4e-5,-2.9e-5,-3.7e-5,-3.8e-5,-3.2e-5,-1.9e-5,-0.8e-5,-0.3e-5,
  -0.2e-5,-0.1e-5,0.4e-5,1.2e-5,1.8e-5,2.1e-5,1.2e-5,0,-1.1e-5,-2.2e-5,
  -2.7e-5
];

const timeMax = 57;
const timeTicks = [0, 10, 20, 30, 40, 50];
const timeTickLabels = ['0', '10', '20', '30', '40', '50'];

const accLimit = 0.38;
const accTicks = [-0.2, 0, 0.2];
const accTickLabels = ['\u22120.2', '0.0', '0.2'];

const velLimit = 0.00184;
const velTicks = [-0.001, 0, 0.001];
const velTickLabels = ['\u22120.001', '0.000', '0.001'];

const dispLimit = 0.000103;
const dispTicks = [-0.0001, -0.00005, 0, 0.00005, 0.0001];
const dispTickLabels = ['\u22120.00010', '\u22120.00005', '0.00000', '0.00005', '0.00010'];

Chart.defaults.font.family = "'DejaVu Sans', sans-serif";
Chart.defaults.color = '#000';

// black box round the plotting area, like the axes spines
const framePlugin = {
  id: 'frame',
  afterDatasetsDraw(chart) {
    const { ctx, chartArea: a } = chart;
    ctx.save();
    ctx.strokeStyle = '#000';
    ctx.lineWidth = 3;
    ctx.strokeRect(a.left, a.top, a.right - a.left, a.bottom - a.top);
    ctx.restore();
  }
};

function makePanel(id, values, step, color, limit, ticks, tickLabels, title, titleGap, width, smooth) {
  const points = values.map((v, i) => ({ x: Math.round(i * step * 1000) / 1000, y: v }));
  return new Chart(document.getElementById(id), {
    type: 'line',
    data: {
      datasets: [{
        data: points,
        borderColor: color,
        borderWidth: width,
        borderJoinStyle: 'round',
        borderCapStyle: 'round',
        pointRadius: 0,
        tension: smooth,
        fill: false
      }]
    },
    options: {
      responsive: false,
      animation: false,
      devicePixelRatio: 1,
      parsing: false,
      normalized: true,
      layout: { padding: { top: 50, right: 48, bottom: 0, left: 0 } },
      plugins: {
        legend: { display: false },
        tooltip: { enabled: false }
      },
      scales: {
        x: {
          type: 'linear',
          min: 0,
          max: timeMax,
          afterFit: s => { s.height = 160; },
          afterBuildTicks: s => { s.ticks = timeTicks.map(v => ({ value: v })); },
          ticks: {
            font: { size: 39 },
            color: '#000',
            padding: 6,
            maxRotation: 0,
            autoSkip: false,
            callback: v => timeTickLabels[timeTicks.indexOf(v)]
          },
          grid: { color: '#b0b0b0', lineWidth: 3, tickColor: '#000', tickWidth: 3, tickLength: 14 },
          border: { display: false },
          title: {
            display: true,
            text: 'Time (s)',
            font: { size: 62 },
            color: '#000',
            padding: { top: 0, bottom: 10 }
          }
        },
        y: {
          type: 'linear',
          min: -limit,
          max: limit,
          afterFit: s => { s.width = 355; },
          afterBuildTicks: s => { s.ticks = ticks.map(v => ({ value: v })); },
          ticks: {
            font: { size: 39 },
            color: '#000',
            padding: 18,
            autoSkip: false,
            callback: v => tickLabels[ticks.indexOf(v)]
          },
          grid: { color: '#b0b0b0', lineWidth: 3, tickColor: '#000', tickWidth: 3, tickLength: 14 },
          border: { display: false },
          title: {
            display: true,
            text: title,
            font: { size: 62 },
            color: '#000',
            padding: { top: titleGap, bottom: 0 }
          }
        }
      }
    },
    plugins: [framePlugin]
  });
}

makePanel('accChart', acceleration, DT, '#000000', accLimit, accTicks, accTickLabels, 'Acceleration (cm/s/s)', 140, 6.5, 0);
makePanel('velChart', velocity, DT, '#0000ff', velLimit, velTicks, velTickLabels, 'Velocity (cm/s)', 86, 6.5, 0);
makePanel('dispChart', displacement, DISP_DT, '#ff0000', dispLimit, dispTicks, dispTickLabels, 'Displacement (cm)', 33, 6, 0.3);
</script>
</body>
</html>
